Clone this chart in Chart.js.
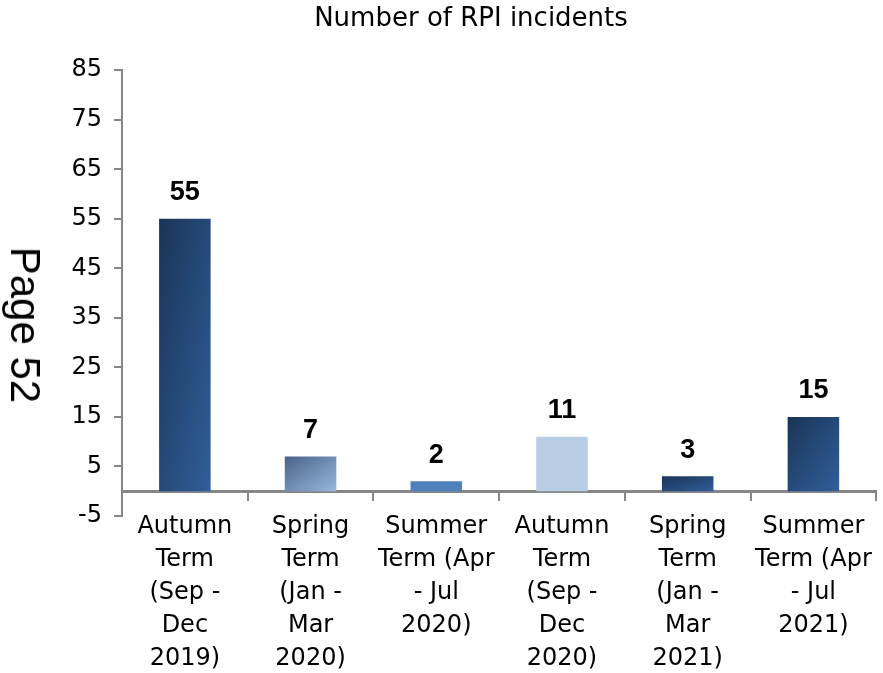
<!DOCTYPE html>
<html lang="en">

<head>
  <meta charset="UTF-8">
  <title>Number of RPI incidents</title>
  <style>
    body { margin: 0; background: #fff; }
    .wrap { position: relative; width: 883px; height: 673px; }
    .pageTag {
      position: absolute;
      left: 25px;
      top: 325px;
      transform: translate(-50%, -50%) rotate(90deg);
      font-family: "Liberation Sans", Arial, sans-serif;
      font-size: 42px;
      color: #000;
      white-space: nowrap;
    }
  </style>
</head>

<body>
  <div class="wrap">
    <canvas id="grafico" width="883" height="673"></canvas>
    <div class="pageTag">Page 52</div>
  </div>

  <script src="https://cdn.jsdelivr.net/npm/chart.js"></script>
  <script>
    const terms = [
      ['Autumn', 'Term', '(Sep -', 'Dec', '2019)'],
      ['Spring', 'Term', '(Jan -', 'Mar', '2020)'],
      ['Summer', 'Term (Apr', '- Jul', '2020)'],
      ['Autumn', 'Term', '(Sep -', 'Dec', '2020)'],
      ['Spring', 'Term', '(Jan -', 'Mar', '2021)'],
      ['Summer', 'Term (Apr', '- Jul', '2021)']
    ];
    const incidents = [55, 7, 2, 11, 3, 15];
    const yTicks = [-5, 5, 15, 25, 35, 45, 55, 65, 75, 85];

    // cores de cada barra: [inicio, fim] do degradê
    const barColors = [
      ['#1b3457', '#305f9a'],
      ['#4a6388', '#96b7e0'],
      ['#4f81bd', '#4f81bd'],
      ['#b9cde5', '#b9cde5'],
      ['#1b3457', '#2f5e98'],
      ['#1b3457', '#305f9a']
    ];

    const cinza = '#868686';

    // degradê diagonal "esticado" na caixa da barra (como no Office)
    function corBarra(context) {
      const chart = context.chart;
      const i = context.dataIndex;
      const c = barColors[i];
      if (c[0] === c[1]) return c[0];
      const x = chart.scales.x;
      const y = chart.scales.y;
      if (!chart.chartArea || !x || !y || x.width === 0) return c[0];
      const w = x.width / incidents.length * 0.41;
      const left = x.getPixelForValue(i) - w / 2;
      const top = y.getPixelForValue(incidents[i]);
      const h = y.getPixelForValue(0) - top;
      const k = 2 * w * h / (h * h + w * w);
      const g = chart.ctx.createLinearGradient(left, top, left + h * k, top + w * k);
      g.addColorStop(0, c[0]);
      g.addColorStop(1, c[1]);
      return g;
    }

    const rotulos = {
      id: 'rotulos',
      afterDatasetsDraw(chart) {
        const ctx = chart.ctx;
        const meta = chart.getDatasetMeta(0);
        ctx.save();
        ctx.font = 'bold 27px "Liberation Sans", Arial, sans-serif';
        ctx.fillStyle = '#000';
        ctx.textAlign = 'center';
        ctx.textBaseline = 'middle';
        meta.data.forEach((bar, i) => {
          ctx.fillText(incidents[i], bar.x, bar.y - 26);
        });
        ctx.restore();
      }
    };

    const ctx = document.getElementById('grafico');

    const grafico = new Chart(ctx, {
      type: 'bar',
      data: {
        labels: terms,
        datasets: [{
          label: 'Number of RPI incidents',
          data: incidents,
          backgroundColor: corBarra,
          barPercentage: 0.41,
          categoryPercentage: 1
        }]
      },
      options: {
        responsive: false,
        animation: false,
        layout: {
          padding: { left: 62, right: 3, top: 0, bottom: 157 }
        },
        plugins: {
          legend: { display: false },
          tooltip: { enabled: false },
          title: {
            display: true,
            text: 'Number of RPI incidents',
            color: '#000',
            font: { family: '"DejaVu Sans", sans-serif', size: 26, weight: 'normal', lineHeight: 1.2 },
            padding: { top: 4, bottom: 35 }
          }
        },
        scales: {
          x: {
            position: { y: 0 },
            grid: {
              display: true,
              drawOnChartArea: false,
              drawTicks: true,
              tickLength: 8,
              color: cinza,
              lineWidth: 2,
              offset: true
            },
            border: { display: true, color: cinza, width: 3 },
            ticks: {
              color: '#000',
              font: { family: '"DejaVu Sans", sans-serif', size: 24, lineHeight: 1.375 },
              padding: 11,
              maxRotation: 0,
              autoSkip: false
            }
          },
          y: {
            min: -5,
            max: 85,
            afterBuildTicks: (scale) => {
              scale.ticks = yTicks.map(v => ({ value: v }));
            },
            afterFit: (scale) => {
              scale.width = 60;
            },
            grid: {
              display: true,
              drawOnChartArea: false,
              drawTicks: true,
              tickLength: 8,
              color: cinza,
              lineWidth: 2
            },
            border: { display: true, color: cinza, width: 2 },
            ticks: {
              color: '#000',
              font: { family: '"DejaVu Sans", sans-serif', size: 24 },
              padding: 12
            }
          }
        }
      },
      plugins: [rotulos]
    });
  </script>
</body>

</html>
